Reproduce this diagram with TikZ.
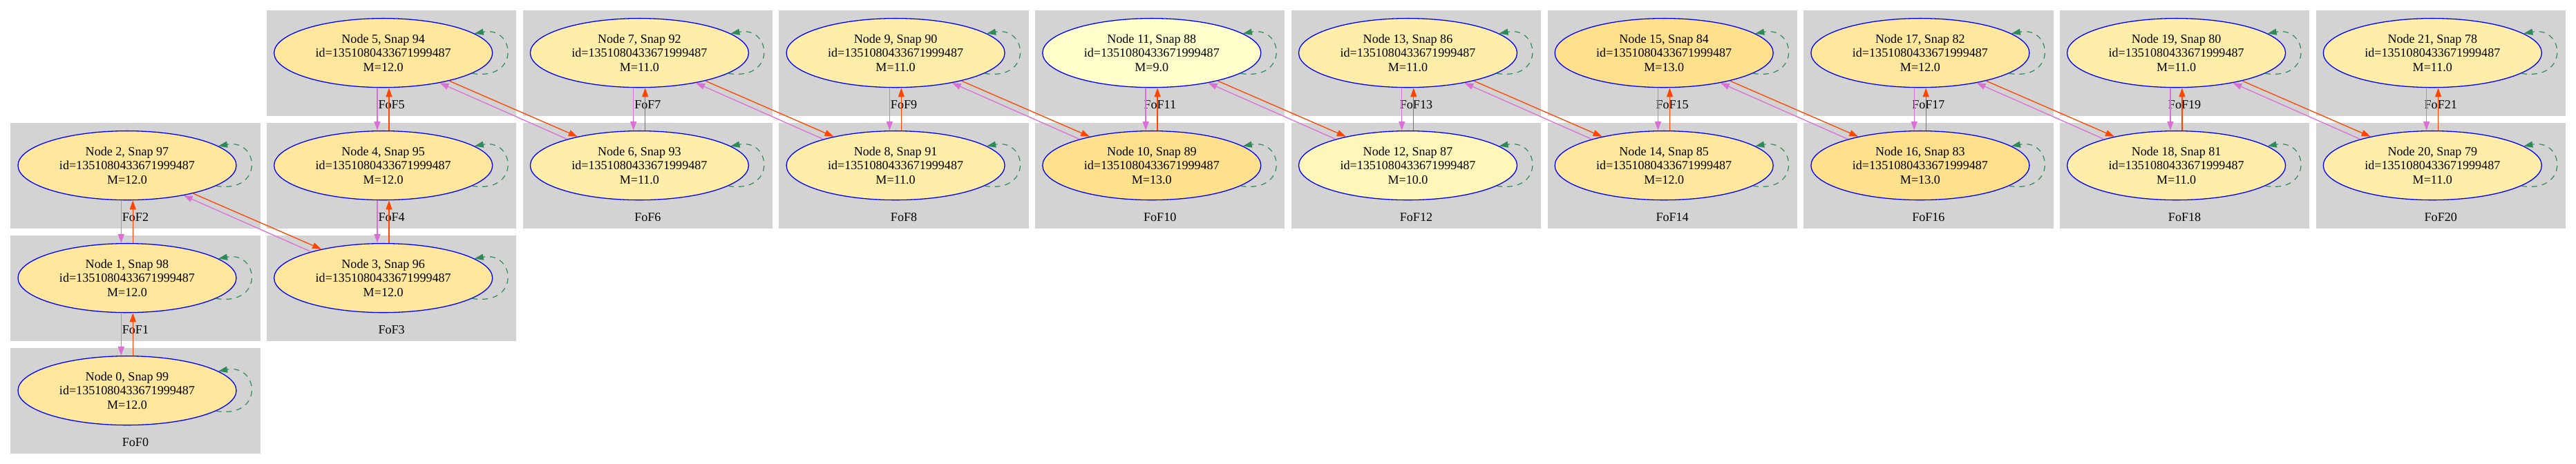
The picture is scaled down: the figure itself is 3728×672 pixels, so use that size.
\documentclass[tikz,border=0pt]{standalone}
\usepackage{fontspec}
\setmainfont{Liberation Serif}
\usetikzlibrary{arrows.meta,shapes.geometric}

\definecolor{fofgray}{HTML}{D3D3D3}
\definecolor{progred}{HTML}{FF4500}
\definecolor{descviolet}{HTML}{DA70D6}
\definecolor{loopgreen}{HTML}{2E8B57}
\definecolor{mass9}{HTML}{FFFFCC}
\definecolor{mass10}{HTML}{FFF6BA}
\definecolor{mass11}{HTML}{FFEEAA}
\definecolor{mass12}{HTML}{FFE89D}
\definecolor{mass13}{HTML}{FFE08D}

\tikzset{
  fofbox/.style={rectangle, fill=fofgray, minimum width=180.65pt, minimum height=76.65pt, inner sep=0pt},
  fofname/.style={inner sep=0pt, font=\fontsize{9.04pt}{10.35pt}\selectfont},
  halo/.style={ellipse, draw=blue, line width=0.65pt, minimum width=158pt, minimum height=50pt, inner sep=0pt, align=center, font=\fontsize{9.04pt}{10.35pt}\selectfont},
  prog/.style={draw=progred, line width=0.65pt, -{Triangle[length=6.5pt,width=4.5pt]}},
  desc/.style={draw=descviolet, line width=0.65pt, -{Triangle[length=6.5pt,width=4.5pt]}},
  selfloop/.style={draw=loopgreen, line width=0.6pt, dash pattern=on 4pt off 3.5pt, -{Triangle[length=6.5pt,width=4.5pt]}}
}

\begin{document}
\begin{tikzpicture}[x=0.5pt, y=-0.5pt]
    \useasboundingbox (0,0) rectangle (3728,672);

    % FoF clusters with their halo
    \foreach \n/\cx/\ry/\s/\m/\k in {0/0/3/99/12.0/12, 1/0/2/98/12.0/12, 2/0/1/97/12.0/12,
        3/1/2/96/12.0/12, 4/1/1/95/12.0/12, 5/1/0/94/12.0/12, 6/2/1/93/11.0/11,
        7/2/0/92/11.0/11, 8/3/1/91/11.0/11, 9/3/0/90/11.0/11, 10/4/1/89/13.0/13,
        11/4/0/88/9.0/9, 12/5/1/87/10.0/10, 13/5/0/86/11.0/11, 14/6/1/85/12.0/12,
        15/6/0/84/13.0/13, 16/7/1/83/13.0/13, 17/7/0/82/12.0/12, 18/8/1/81/11.0/11,
        19/8/0/80/11.0/11, 20/9/1/79/11.0/11, 21/9/0/78/11.0/11} {
        \node[fofbox] (f\n) at (195.95+370.7*\cx, 91.65+163*\ry) {};
        \node[fofname] (l\n) at ([yshift=8.5pt]f\n.south) {FoF\n};
        \node[halo, fill=mass\k] (n\n) at ([xshift=-5.98pt, yshift=7.5pt]f\n.center)
            {Node \n, Snap \s\\id=1351080433671999487\\M=\m};
    }

    % Links inside a column
    \foreach \n/\m in {0/1, 1/2, 3/4, 4/5, 6/7, 8/9, 10/11, 12/13, 14/15, 16/17, 18/19, 20/21} {
        \draw[desc] ([xshift=-4.35pt]n\m.south) -- ([xshift=-4.35pt]n\n.north);
        \draw[prog] ([xshift=4.15pt]n\n.north) -- ([xshift=4.15pt]n\m.south);
    }

    % Links to the next column
    \foreach \n/\m in {2/3, 5/6, 7/8, 9/10, 11/12, 13/14, 15/16, 17/18, 19/20} {
        \draw[prog] (n\n.-23) -- (n\m.155);
        \draw[desc] (n\m.160) -- (n\n.-28);
    }

    % Self loops
    \foreach \n in {0,...,21} {
        \draw[selfloop] (n\n.-13) .. controls +(35.1pt,-5.65pt) and +(29.6pt,5.5pt) .. (n\n.12);
    }
\end{tikzpicture}
\end{document}
